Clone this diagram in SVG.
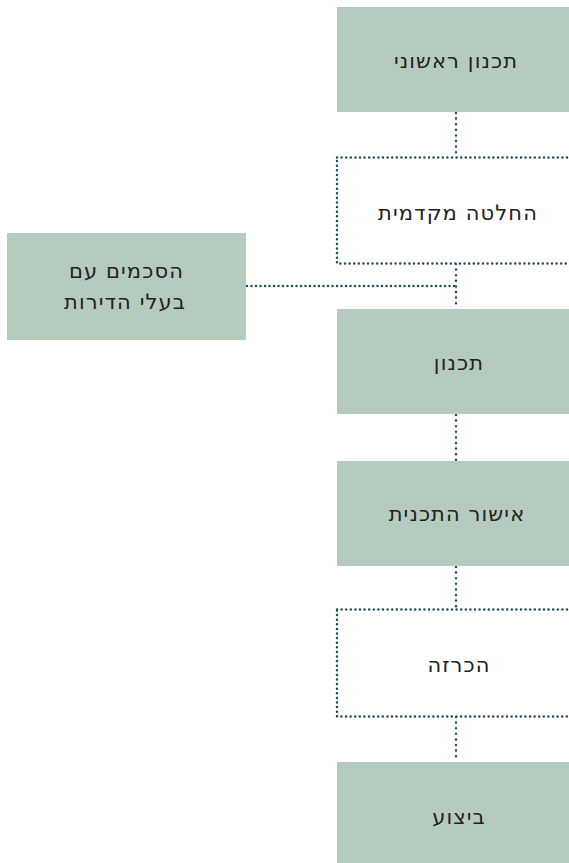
<svg xmlns="http://www.w3.org/2000/svg" width="569" height="863" viewBox="0 0 569 863">
<style>
.box{fill:#b4cbbe}
.dbox{fill:#fff;stroke:#1d4d5e;stroke-width:2.5;stroke-dasharray:0 4.6;stroke-linecap:round}
.con{fill:none;stroke:#1d4d5e;stroke-width:2.5;stroke-dasharray:0 5.6;stroke-linecap:round}
.t{font-family:"DejaVu Sans",sans-serif;font-size:21px;letter-spacing:1.1px;fill:#222;text-anchor:middle;direction:rtl}
</style>
<rect width="569" height="863" fill="#fff"/>
<g id="connectors">
<line class="con" x1="456" y1="113" x2="456" y2="157"/>
<line class="con" x1="456" y1="264" x2="456" y2="308"/>
<line class="con" x1="247" y1="286" x2="456" y2="286" style="stroke-dasharray:0 4.5"/>
<line class="con" x1="456" y1="415" x2="456" y2="460"/>
<line class="con" x1="456" y1="567" x2="456" y2="609"/>
<line class="con" x1="456" y1="717" x2="456" y2="761"/>
</g>
<g id="n1"><rect class="box" x="337" y="7" width="240" height="105"/><text class="t" x="456" y="68">תכנון ראשוני</text></g>
<g id="n2"><rect class="dbox" x="337" y="157.5" width="250" height="106"/><text class="t" x="458" y="220">החלטה מקדמית</text></g>
<g id="n3"><rect class="box" x="7" y="233" width="239" height="107"/><text class="t" x="126.5" y="278">הסכמים עם</text><text class="t" x="125" y="309">בעלי הדירות</text></g>
<g id="n4"><rect class="box" x="337" y="309" width="240" height="105"/><text class="t" x="459" y="370">תכנון</text></g>
<g id="n5"><rect class="box" x="337" y="461" width="240" height="105"/><text class="t" x="457" y="521">אישור התכנית</text></g>
<g id="n6"><rect class="dbox" x="337" y="609.5" width="250" height="107"/><text class="t" x="459" y="672">הכרזה</text></g>
<g id="n7"><rect class="box" x="337" y="762" width="240" height="105"/><text class="t" x="459" y="824">ביצוע</text></g>
</svg>
